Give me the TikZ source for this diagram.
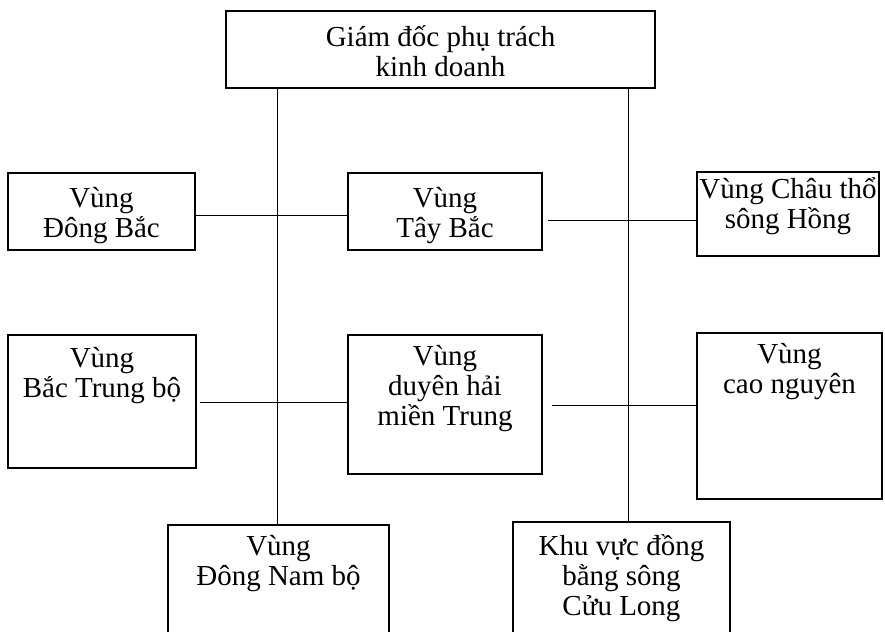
\documentclass[tikz,border=0pt]{standalone}
\usepackage{fontspec}
\setmainfont{Liberation Serif}
% centred lines, first baseline is the box baseline, fixed 30pt line pitch
\newcommand{\stack}[1]{\vtop{\lineskiplimit=-100pt\baselineskip=30pt\halign{\hfil##\hfil\cr#1\crcr}}}
\begin{document}
\begin{tikzpicture}[x=1pt,y=-1pt,
  box/.style={draw, line width=1.3pt, inner sep=0pt, anchor=base,
              font=\fontsize{29}{30}\selectfont},
  link/.style={line width=1pt}]
\useasboundingbox (0,0) rectangle (885,631);
\fill[white] (0,0) rectangle (885,631);
\clip (0,0) rectangle (885,631);

% head office
\node[box, minimum width=429pt, text height=36pt, text depth=41pt] (gd) at (440.5,47)
  {\stack{Giám đốc phụ trách\cr kinh doanh}};

% first row of regions
\node[box, minimum width=187pt, text height=34pt, text depth=43pt] (db) at (101.5,207)
  {\stack{Vùng\cr Đông Bắc}};
\node[box, minimum width=194pt, text height=34pt, text depth=43pt] (tb) at (445,207)
  {\stack{Vùng\cr Tây Bắc}};
\node[box, minimum width=182pt, text height=26pt, text depth=58pt] (ct) at (788,198)
  {\stack{Vùng Châu thổ\cr sông Hồng}};

% second row of regions
\node[box, minimum width=188pt, text height=32pt, text depth=101pt] (bt) at (102,367)
  {\stack{Vùng\cr Bắc Trung bộ}};
\node[box, minimum width=194pt, text height=30pt, text depth=109pt] (dh) at (445,365)
  {\stack{Vùng\cr duyên hải\cr miền Trung}};
\node[box, minimum width=185pt, text height=30pt, text depth=136pt] (cn) at (789.5,363)
  {\stack{Vùng\cr cao nguyên}};

% bottom row
\node[box, minimum width=221pt, text height=30pt, text depth=95pt] (dn) at (278.5,555)
  {\stack{Vùng\cr Đông Nam bộ}};
\node[box, minimum width=217pt, text height=33pt, text depth=95pt] (cl) at (621.5,555)
  {\stack{Khu vực đồng\cr bằng sông\cr Cửu Long}};

% trunk lines
\coordinate (vl) at (277,0);
\coordinate (vr) at (628,0);
\draw[link] (vl |- gd.south) -- (vl |- dn.north);
\draw[link] (vr |- gd.south) -- (vr |- cl.north);

% cross links
\coordinate (r1l) at (0,215);
\coordinate (r1r) at (0,220);
\coordinate (r2l) at (0,402);
\coordinate (r2r) at (0,405);
\draw[link] (db.east |- r1l) -- (tb.west |- r1l);
\draw[link, shorten <=5pt] (tb.east |- r1r) -- (ct.west |- r1r);
\draw[link, shorten <=3pt] (bt.east |- r2l) -- (dh.west |- r2l);
\draw[link, shorten <=9pt] (dh.east |- r2r) -- (cn.west |- r2r);
\end{tikzpicture}
\end{document}
